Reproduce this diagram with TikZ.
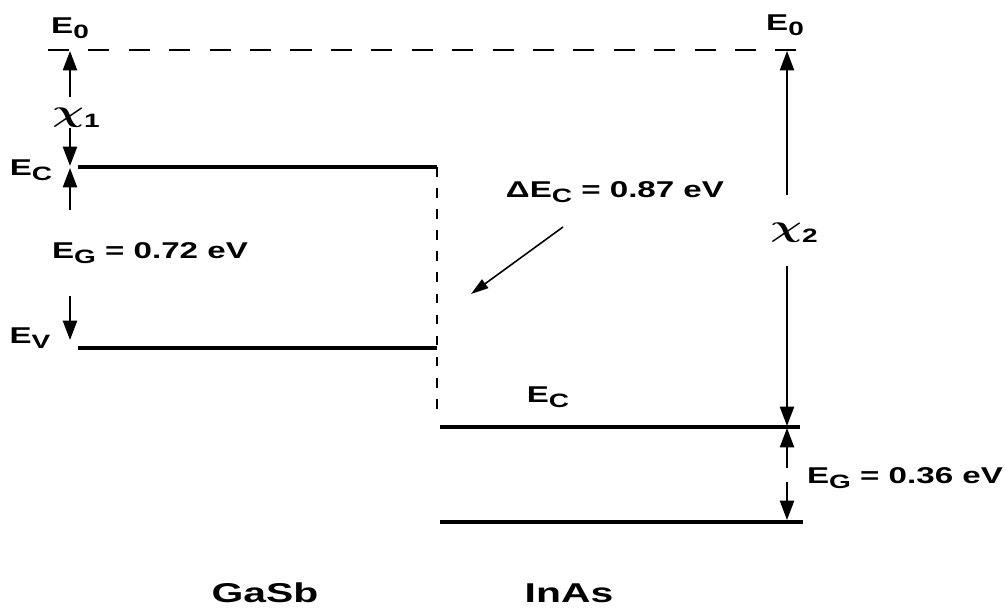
\documentclass[tikz,border=0pt]{standalone}
\usepackage{fontspec}
\setmainfont{Liberation Sans}
\usetikzlibrary{arrows.meta, positioning}
\newcommand{\lsub}[1]{\raisebox{-0.45ex}{\fontsize{11}{13}\selectfont #1}}
\newcommand{\chisym}{{\fontsize{16}{18}\selectfont\boldmath$\chi$}}

\begin{document}
\begin{tikzpicture}[x=0.02cm, y=-0.02cm,
  lbl/.style={font=\fontsize{13}{15}\selectfont\bfseries, inner sep=1pt, xscale=1.45},
  mat/.style={font=\fontsize{15.5}{18}\selectfont\bfseries, inner sep=1pt, xscale=1.5},
  level/.style={line width=2pt},
  vacuum/.style={line width=1.2pt, dash pattern=on 12pt off 11pt},
  stepline/.style={line width=1.6pt, dash pattern=on 5.5pt off 6.5pt},
  arr/.style={line width=1.2pt, -{Triangle[length=11pt, width=8pt]}},
  thinarr/.style={line width=0.9pt, -{Triangle[length=10pt, width=6pt]}}]
  \useasboundingbox (0,0) rectangle (1006,608);

  % levels
  \coordinate (vac1) at (48,50);   \coordinate (vac2) at (805,50);
  \coordinate (gasbC1) at (78,167);  \coordinate (gasbC2) at (437,167);
  \coordinate (gasbV1) at (78,348);  \coordinate (gasbV2) at (437,348);
  \coordinate (stepEnd) at (437,418);
  \coordinate (inasC1) at (440,427); \coordinate (inasC2) at (800,427);
  \coordinate (inasV1) at (440,522); \coordinate (inasV2) at (803,522);
  \draw[vacuum] (vac1) -- (vac2);
  \draw[level] (gasbC1) -- (gasbC2);
  \draw[level] (gasbV1) -- (gasbV2);
  \draw[stepline] (gasbC2) -- (stepEnd);
  \draw[level] (inasC1) -- (inasC2);
  \draw[level] (inasV1) -- (inasV2);

  % labels
  \node[lbl] (e0L) at (70,28) {E\lsub{0}};
  \node[lbl] (e0R) at (785,25) {E\lsub{0}};
  \node[lbl] (ecLlbl) at (31,170) {E\lsub{C}};
  \node[lbl] (evLlbl) at (30,338) {E\lsub{V}};
  \node[lbl] (chi1) at (76,118) {\chisym\lsub{1}};
  \node[lbl] (chi2) at (794,233) {\chisym\lsub{2}};
  \node[lbl] (eg1) at (150,253) {E\lsub{G} = 0.72 eV};
  \node[lbl] (dEc) at (615,192) {ΔE\lsub{C} = 0.87 eV};
  \node[lbl] (ecRlbl) at (548,397) {E\lsub{C}};
  \node[lbl] (eg2) at (905,478) {E\lsub{G} = 0.36 eV};
  \node[mat] (gasb) at (265,593) {GaSb};
  \node[mat] (inas) at (569,593) {InAs};

  % arrows, left side
  \coordinate (vacL) at (70,51);  \coordinate (ecLtop) at (70,166);
  \coordinate (ecLbot) at (70,168); \coordinate (evL) at (70,340);
  \coordinate (chi1a) at (70,97); \coordinate (chi1b) at (70,128);
  \coordinate (eg1a) at (70,210); \coordinate (eg1b) at (70,296);
  \draw[arr] (chi1a) -- (vacL);
  \draw[arr] (chi1b) -- (ecLtop);
  \draw[arr] (eg1a) -- (ecLbot);
  \draw[arr] (eg1b) -- (evL);

  % arrows, right side
  \coordinate (vacR) at (787,51);  \coordinate (ecRtop) at (787,426);
  \coordinate (ecRbot) at (787,428); \coordinate (evR) at (787,520);
  \coordinate (chi2a) at (787,195); \coordinate (chi2b) at (787,266);
  \coordinate (eg2a) at (787,468); \coordinate (eg2b) at (787,482);
  \draw[arr] (chi2a) -- (vacR);
  \draw[arr] (chi2b) -- (ecRtop);
  \draw[arr] (eg2a) -- (ecRbot);
  \draw[arr] (eg2b) -- (evR);

  % band offset pointer
  \coordinate (dEtail) at (563,227); \coordinate (dEtip) at (471,294);
  \draw[thinarr] (dEtail) -- (dEtip);
\end{tikzpicture}
\end{document}
